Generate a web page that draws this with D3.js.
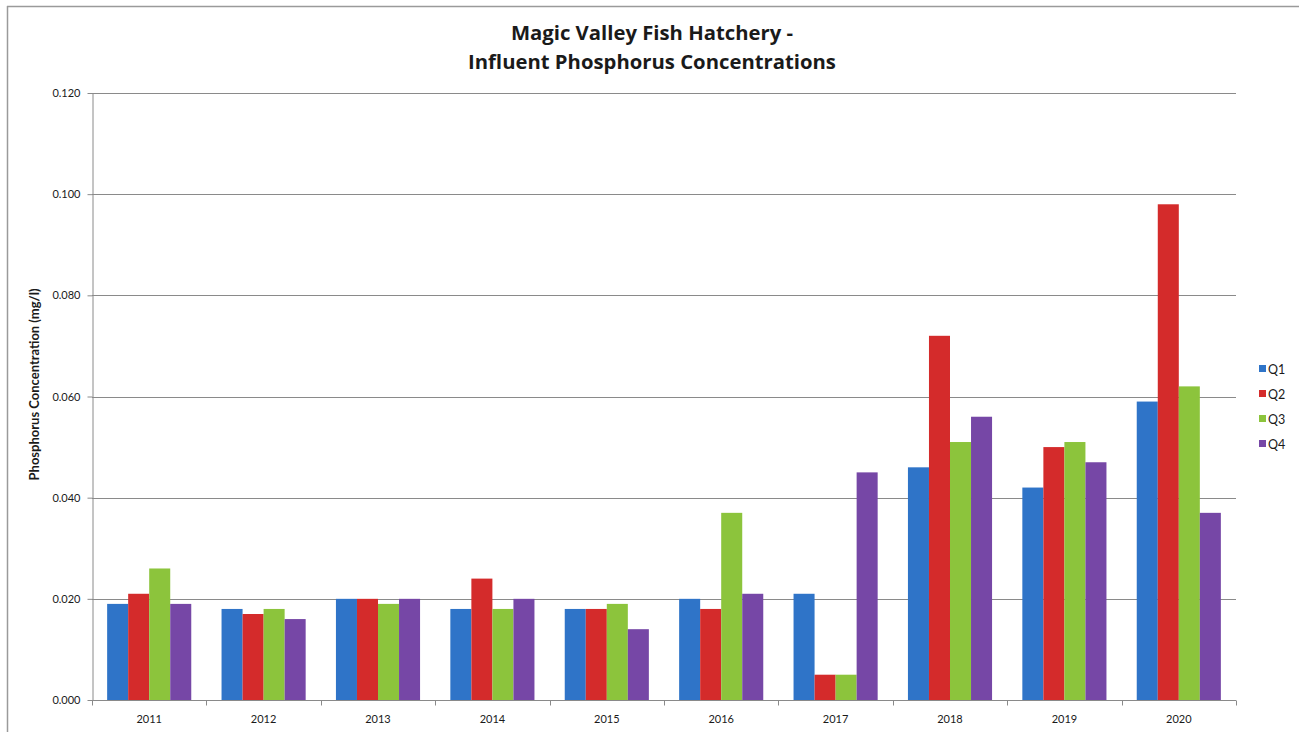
<!DOCTYPE html>
<html>
<head>
<meta charset="utf-8">
<script src="https://cdn.jsdelivr.net/npm/d3@7"></script>
<style>
  html, body { margin: 0; padding: 0; background: #fff; }
  svg { display: block; }
  text { font-family: Lato, "Open Sans", sans-serif; fill: #1a1a1a; }
</style>
</head>
<body>
<svg id="chart" width="1299" height="732"></svg>
<script>
// Sampling years and quarterly influent phosphorus (mg/l)
const years = ["2011", "2012", "2013", "2014", "2015", "2016", "2017", "2018", "2019", "2020"];
const quarters = ["Q1", "Q2", "Q3", "Q4"];
const q1 = [0.019, 0.018, 0.020, 0.018, 0.018, 0.020, 0.021, 0.046, 0.042, 0.059];
const q2 = [0.021, 0.017, 0.020, 0.024, 0.018, 0.018, 0.005, 0.072, 0.050, 0.098];
const q3 = [0.026, 0.018, 0.019, 0.018, 0.019, 0.037, 0.005, 0.051, 0.051, 0.062];
const q4 = [0.019, 0.016, 0.020, 0.020, 0.014, 0.021, 0.045, 0.056, 0.047, 0.037];
const yTicks = [0, 0.02, 0.04, 0.06, 0.08, 0.10, 0.12];
const colors = ["#2f74c8", "#d42b2b", "#8cc43c", "#7647a6"];

const seriesValues = [q1, q2, q3, q4];

const svg = d3.select("#chart");
const plot = { left: 92, right: 1236, top: 93, bottom: 700 };

// Outer frame (top and left edges)
svg.append("line").attr("x1", 7).attr("x2", 1299).attr("y1", 6.5).attr("y2", 6.5)
  .attr("stroke", "#9a9a9a").attr("stroke-width", 1.5);
svg.append("line").attr("x1", 7.5).attr("x2", 7.5).attr("y1", 6).attr("y2", 732)
  .attr("stroke", "#9a9a9a").attr("stroke-width", 1.5);

const y = d3.scaleLinear().domain([0, 0.12]).range([plot.bottom, plot.top]);
const x0 = d3.scaleBand().domain(years).range([plot.left, plot.right]).padding(0);
const x1 = d3.scaleBand().domain(quarters).range([0, x0.bandwidth()])
  .paddingInner(0).paddingOuter(0.72);

// Horizontal gridlines
svg.append("g").selectAll("line").data(yTicks.filter(d => d > 0)).join("line")
  .attr("x1", plot.left).attr("x2", plot.right)
  .attr("y1", d => Math.round(y(d)) + 0.5).attr("y2", d => Math.round(y(d)) + 0.5)
  .attr("stroke", "#8a8a8a").attr("stroke-width", 1);

// Y axis
const yAxis = svg.append("g").attr("transform", `translate(${plot.left + 0.5},0)`)
  .call(d3.axisLeft(y).tickValues(yTicks).tickFormat(d3.format(".3f")).tickSize(5).tickSizeOuter(0));
yAxis.select(".domain").attr("stroke", "#8a8a8a");
yAxis.selectAll(".tick line").attr("stroke", "#8a8a8a");
yAxis.selectAll(".tick text").attr("x", -12).style("font-size", "11px")
  .style("font-family", "Lato, sans-serif").attr("fill", "#222");

// Bars
const groups = svg.append("g").selectAll("g").data(years).join("g")
  .attr("transform", d => `translate(${x0(d)},0)`);
groups.selectAll("rect")
  .data((yr, i) => quarters.map((q, k) => ({ q, k, v: seriesValues[k][i] })))
  .join("rect")
  .attr("x", d => x1(d.q))
  .attr("width", x1.bandwidth())
  .attr("y", d => y(d.v))
  .attr("height", d => y(0) - y(d.v))
  .attr("fill", d => colors[d.k]);

// X axis with ticks between categories
const xAxisG = svg.append("g").attr("transform", `translate(0,${plot.bottom + 0.5})`);
xAxisG.append("line").attr("x1", plot.left).attr("x2", plot.right)
  .attr("stroke", "#8a8a8a");
const boundaries = years.map(d => x0(d)).concat([plot.right]);
xAxisG.selectAll("line.tk").data(boundaries).join("line").attr("class", "tk")
  .attr("x1", d => Math.round(d) + 0.5).attr("x2", d => Math.round(d) + 0.5)
  .attr("y1", 0).attr("y2", 5).attr("stroke", "#8a8a8a");
xAxisG.selectAll("text").data(years).join("text")
  .attr("x", d => x0(d) + x0.bandwidth() / 2).attr("y", 22)
  .attr("text-anchor", "middle").style("font-size", "11px").text(d => d);

// Title
const title = svg.append("text").attr("text-anchor", "middle")
  .style("font-family", "'Open Sans', sans-serif")
  .style("font-size", "20.3px").style("font-weight", "bold");
title.append("tspan").attr("x", 652).attr("y", 40).text("Magic Valley Fish Hatchery -");
title.append("tspan").attr("x", 652).attr("y", 69).text("Influent Phosphorus Concentrations");

// Y axis title
svg.append("text")
  .attr("transform", `translate(39,${(plot.top + plot.bottom) / 2 - 12}) rotate(-90)`)
  .attr("text-anchor", "middle").style("font-size", "13px").style("font-weight", "bold")
  .text("Phosphorus Concentration (mg/l)");

// Legend
const legend = svg.append("g").selectAll("g").data(quarters).join("g")
  .attr("transform", (d, i) => `translate(1259,${369 + i * 25})`);
legend.append("rect").attr("x", 0).attr("y", -4).attr("width", 7).attr("height", 7)
  .attr("fill", (d, i) => colors[i]);
legend.append("text").attr("x", 9).attr("y", 4.5).style("font-size", "12.5px").text(d => d);
</script>
</body>
</html>
